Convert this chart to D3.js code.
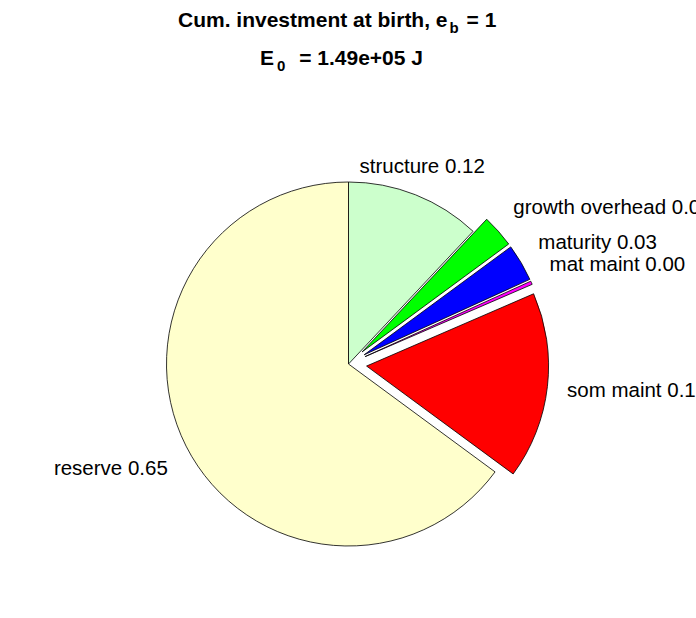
<!DOCTYPE html>
<html>
<head>
<meta charset="utf-8">
<script src="https://cdn.jsdelivr.net/npm/d3@7"></script>
<style>
  html, body { margin: 0; padding: 0; background: #fff; }
  svg { display: block; }
  text { font-family: "Liberation Sans", Arial, Helvetica, sans-serif; fill: #000; }
</style>
</head>
<body>
<div id="chart"></div>
<script>
// ---- data ----
const categories = ["structure", "growth overhead", "maturity", "mat maint", "som maint", "reserve"];
const fractions  = [0.120, 0.029, 0.033, 0.003, 0.166, 0.649];
const exploded   = [false, true, true, true, true, false];
const colors     = ["#ccffcc", "#00ff00", "#0000ff", "#ff00ff", "#ff0000", "#ffffcc"];
const titleLine1 = ["Cum. investment at birth, e", "b", " = 1"];
const titleLine2 = ["E", "0", " = 1.49e+05 J"];

// ---- layout ----
const W = 696, H = 618;
const cx = 348.5, cy = 364, R = 182;
const explodeOff = 0.1 * R;
const labelR = 1.1 * R;
const fs = 20.5;
const tfs = 21;

const svg = d3.select("#chart").append("svg")
  .attr("width", W).attr("height", H);

// title (TeX-like subscripts)
function subTitle(parts, x, y, gapIn, gapOut) {
  const t = svg.append("text")
    .attr("x", x).attr("y", y)
    .attr("text-anchor", "start")
    .style("font-weight", "bold").style("font-size", tfs + "px");
  t.append("tspan").text(parts[0]);
  t.append("tspan").text(parts[1]).style("font-size", "15px").attr("dx", gapIn).attr("dy", 6);
  t.append("tspan").text(parts[2]).attr("dx", gapOut).attr("dy", -6);
}
subTitle(titleLine1, 178, 27, 2, 2);
subTitle(titleLine2, 260, 65, 3, 8);

const data = categories.map((c, i) => ({ name: c, value: fractions[i], explode: exploded[i], color: colors[i] }));

const pie = d3.pie().sort(null).value(d => d.value).startAngle(0).endAngle(2 * Math.PI);
const arcs = pie(data);
const arc = d3.arc().innerRadius(0).outerRadius(R);

const g = svg.append("g").attr("transform", `translate(${cx},${cy})`);

arcs.forEach(a => {
  const mid = (a.startAngle + a.endAngle) / 2;
  const off = a.data.explode ? explodeOff : 0;
  const ox = Math.sin(mid) * off, oy = -Math.cos(mid) * off;
  g.append("path")
    .attr("d", arc(a))
    .attr("transform", `translate(${ox},${oy})`)
    .attr("fill", a.data.color)
    .attr("stroke", "#000")
    .attr("stroke-width", 0.8)
    .attr("stroke-linejoin", "miter");

  const lx = ox + Math.sin(mid) * labelR;
  const ly = oy - Math.cos(mid) * labelR;
  const s = Math.sin(mid), c = Math.cos(mid);
  const anchor = s > 0.5 ? "start" : (s < -0.5 ? "end" : "middle");
  let by;
  if (c > 0.3) by = ly - 0.23 * fs;
  else if (c < -0.3) by = ly + 1.0 * fs;
  else by = ly + 0.42 * fs;
  g.append("text")
    .attr("x", lx + (anchor === "start" ? 1.5 : (anchor === "end" ? -2 : 0))).attr("y", by)
    .attr("text-anchor", anchor)
    .style("font-size", fs + "px")
    .text(a.data.name + " " + a.data.value.toFixed(2));
});
</script>
</body>
</html>
